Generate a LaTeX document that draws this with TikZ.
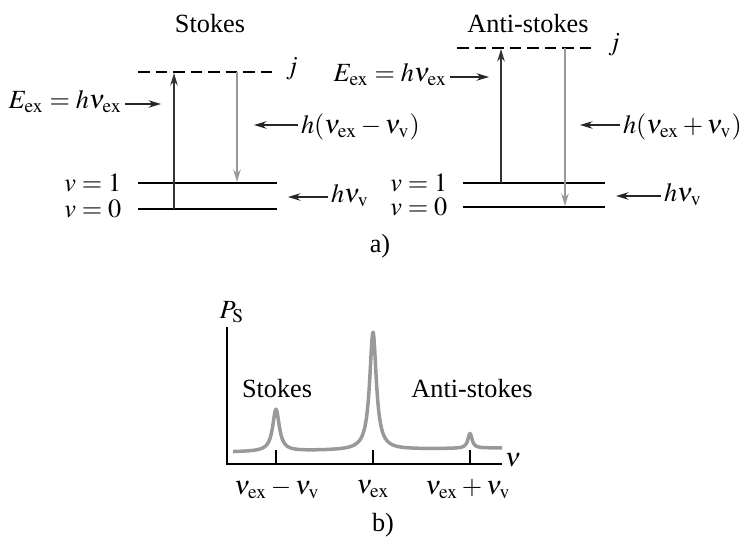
\documentclass[tikz,border=0pt]{standalone}
\usepackage{mathptmx}
\usepackage{fontspec}
\setmainfont{Liberation Serif}
\usetikzlibrary{arrows.meta}

\tikzset{
  level/.style={line width=0.8pt},
  virtual/.style={line width=0.7pt,dash pattern=on 4.6pt off 2.4pt},
  pump/.style={line width=0.7pt,black!80,-{Stealth[length=5pt,width=3pt]}},
  emit/.style={line width=0.6pt,black!40,-{Stealth[length=5pt,width=3pt]}},
  pointer/.style={line width=0.6pt,black!85,-{Stealth[length=5pt,width=3pt]}},
  tag/.style={inner sep=1pt},
  spectrum/.style={line width=1.4pt,black!40,line join=round},
}

\begin{document}
\begin{tikzpicture}[x=0.4pt,y=-0.4pt,font=\fontsize{10.5}{12}\selectfont]
  \useasboundingbox (0,0) rectangle (744,538);
  % a) Stokes
  \node (stk) at (210,24) {Stokes};
  \coordinate (sjL) at (138,72);  \coordinate (sjR) at (277,72);
  \coordinate (s1L) at (138,183); \coordinate (s1R) at (277,183);
  \coordinate (s0L) at (138,209); \coordinate (s0R) at (277,209);
  \draw[virtual] (sjL) -- (sjR);
  \draw[level] (s1L) -- (s1R);
  \draw[level] (s0L) -- (s0R);
  \node (sj) at (292,69) {$j$};
  \node[anchor=east] (s1) at (130,183) {$v = 1$};
  \node[anchor=east] (s0) at (130,209) {$v = 0$};
  \coordinate (sup0) at (174,209); \coordinate (supj) at (174,73);
  \coordinate (sdnj) at (237,72);  \coordinate (sdn1) at (237,182);
  \draw[pump] (sup0) -- (supj);
  \draw[emit] (sdnj) -- (sdn1);
  \node[tag,anchor=east] (sex) at (125,102) {$E_{\mathrm{ex}} = h\nu_{\mathrm{ex}}$};
  \coordinate (sexT) at (161,104);
  \draw[pointer] (sex.east |- sexT) -- (sexT);
  \node[tag,anchor=west] (sdiff) at (298,127) {$h(\nu_{\mathrm{ex}} - \nu_{\mathrm{v}})$};
  \coordinate (sdiffT) at (254,125);
  \draw[pointer] (sdiff.west |- sdiffT) -- (sdiffT);
  \node[tag,anchor=west] (svib) at (328,196) {$h\nu_{\mathrm{v}}$};
  \coordinate (svibT) at (288,197);
  \draw[pointer] (svib.west |- svibT) -- (svibT);

  % a) Anti-stokes
  \node (ast) at (528,24) {Anti-stokes};
  \coordinate (ajL) at (457,48);  \coordinate (ajR) at (597,48);
  \coordinate (a1L) at (463,183); \coordinate (a1R) at (605,183);
  \coordinate (a0L) at (463,207); \coordinate (a0R) at (605,207);
  \draw[virtual] (ajL) -- (ajR);
  \draw[level] (a1L) -- (a1R);
  \draw[level] (a0L) -- (a0R);
  \node (aj) at (614,45) {$j$};
  \node[anchor=east] (a1) at (456,183) {$v = 1$};
  \node[anchor=east] (a0) at (456,207) {$v = 0$};
  \coordinate (aup1) at (501,183); \coordinate (aupj) at (501,49);
  \coordinate (adnj) at (565,48);  \coordinate (adn0) at (565,206);
  \draw[pump] (aup1) -- (aupj);
  \draw[emit] (adnj) -- (adn0);
  \node[tag,anchor=east] (aex) at (450,75) {$E_{\mathrm{ex}} = h\nu_{\mathrm{ex}}$};
  \coordinate (aexT) at (489,77);
  \draw[pointer] (aex.east |- aexT) -- (aexT);
  \node[tag,anchor=west] (asum) at (620,127) {$h(\nu_{\mathrm{ex}} + \nu_{\mathrm{v}})$};
  \coordinate (asumT) at (580,125);
  \draw[pointer] (asum.west |- asumT) -- (asumT);
  \node[tag,anchor=west] (avib) at (661,195) {$h\nu_{\mathrm{v}}$};
  \coordinate (avibT) at (616,196);
  \draw[pointer] (avib.west |- avibT) -- (avibT);
  \node (parta) at (380,246) {a)};

  % b) spectrum
  \coordinate (ytop) at (227,327); \coordinate (xend) at (502,464);
  \draw[level] (ytop) |- (xend);
  \node (ps) at (232,312) {$P_{\mathrm{S}}$};
  \node (nu) at (513,460) {$\nu$};
  \foreach \t/\name in {276/tst,373/tex,470/tas}
    \draw[level] (\t,450) -- (\t,464) coordinate (\name);
  \node[inner sep=1pt] (lst) at (277,489) {$\nu_{\mathrm{ex}} - \nu_{\mathrm{v}}$};
  \node[inner sep=1pt] (lex) at (373,489) {$\nu_{\mathrm{ex}}$};
  \node[inner sep=1pt] (las) at (468,489) {$\nu_{\mathrm{ex}} + \nu_{\mathrm{v}}$};
  \node (bst) at (277,389) {Stokes};
  \node (bas) at (472,389) {Anti-stokes};
  \draw[spectrum] plot[domain=233:502,samples=400]
    (\x,{452-(\x-233)*0.015-42/(1+((\x-276)/4)^2)-118/(1+((\x-373)/4)^2)-15/(1+((\x-470)/2.5)^2)});
  \node (partb) at (383,525) {b)};
\end{tikzpicture}
\end{document}
